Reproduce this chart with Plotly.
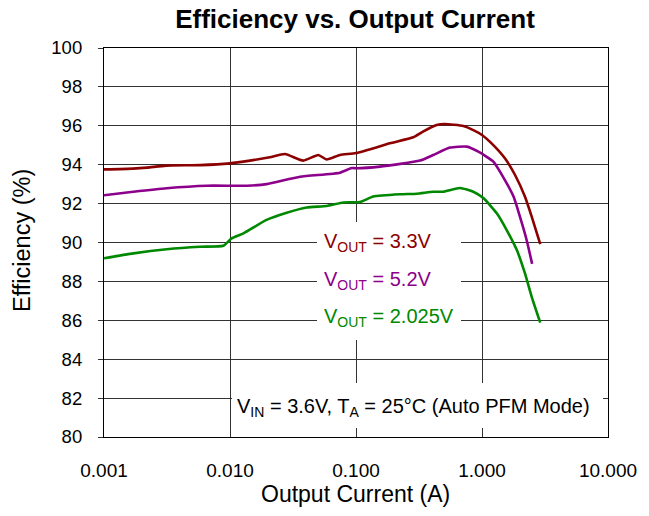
import plotly.graph_objects as go

# ---- data ----
x_33 = [0.001, 0.0017, 0.0022, 0.0031, 0.0058, 0.01, 0.0144, 0.0207, 0.0273, 0.0382, 0.0502,
        0.0585, 0.0746, 0.1, 0.186, 0.285, 0.34, 0.436, 0.508, 0.711, 0.853, 1.0, 1.23,
        1.52, 1.83, 2.19, 2.48, 2.9]
y_33 = [93.76, 93.8, 93.85, 93.95, 93.98, 94.07, 94.21, 94.38, 94.55, 94.21, 94.5,
        94.27, 94.5, 94.6, 95.1, 95.41, 95.7, 96.04, 96.09, 95.99, 95.78, 95.53, 95.01,
        94.33, 93.47, 92.36, 91.33, 89.92]

x_52 = [0.001, 0.00171, 0.00314, 0.00653, 0.0136, 0.0195, 0.036, 0.0746, 0.0925, 0.1,
        0.155, 0.322, 0.411, 0.557, 0.757, 0.936, 1.23, 1.52, 1.78, 2.0, 2.26, 2.5]
y_52 = [92.43, 92.61, 92.79, 92.92, 92.92, 93.0, 93.38, 93.59, 93.83, 93.82,
        93.9, 94.21, 94.5, 94.88, 94.93, 94.67, 94.16, 93.21, 92.36, 91.33, 90.13, 88.9]

x_2025 = [0.001, 0.00171, 0.00314, 0.00578, 0.00885, 0.0103, 0.0128, 0.0195, 0.0282, 0.0406,
          0.0585, 0.0794, 0.1076, 0.137, 0.223, 0.303, 0.411, 0.493, 0.669, 0.853, 1.03,
          1.31, 1.57, 1.89, 2.19, 2.48, 2.9]
y_2025 = [89.19, 89.44, 89.65, 89.78, 89.83, 90.21, 90.47, 91.16, 91.53, 91.8,
          91.88, 92.06, 92.08, 92.36, 92.48, 92.51, 92.61, 92.61, 92.8, 92.61, 92.27,
          91.5, 90.64, 89.61, 88.42, 87.21, 85.88]

x_tickvals = [0.001, 0.01, 0.1, 1, 10]
x_ticktext = ["0.001", "0.010", "0.100", "1.000", "10.000"]
y_tickvals = [80, 82, 84, 86, 88, 90, 92, 94, 96, 98, 100]

series = [
    ("V<sub>OUT</sub> = 3.3V", x_33, y_33, "rgb(140,0,0)"),
    ("V<sub>OUT</sub> = 5.2V", x_52, y_52, "rgb(140,0,140)"),
    ("V<sub>OUT</sub> = 2.025V", x_2025, y_2025, "rgb(0,136,0)"),
]

FONT = "Liberation Sans, Arial, sans-serif"
OFF = 8  # browser body margin: the figure starts at page (8, 8)
W, H = 649 - OFF, 516 - OFF
# wanted plot area in page pixels: x 104..608, y 48..437
L, T = 104 - OFF, 48 - OFF
R, B = 649 - 608, 516 - 437
PW, PH = 608 - 104, 437 - 48


def px(x):
    return (x - 104) / PW


def py(y):
    return (437 - y) / PH


fig = go.Figure()
for name, xs, ys, col in series:
    fig.add_trace(go.Scatter(x=xs, y=ys, mode="lines", name=name,
                             line=dict(color=col, width=2.6, shape="spline", smoothing=0.5),
                             showlegend=False))

# white boxes covering gridlines behind the labels
fig.add_annotation(xref="paper", yref="paper", x=px(317), y=py(222), text=" ",
                   showarrow=False, xanchor="left", yanchor="top",
                   width=144, height=118, bgcolor="white", borderpad=0, borderwidth=0)
fig.add_annotation(xref="paper", yref="paper", x=px(232), y=py(383), text=" ",
                   showarrow=False, xanchor="left", yanchor="top",
                   width=371, height=45, bgcolor="white", borderpad=0, borderwidth=0)

label_y = [243, 280, 317]
for (name, xs, ys, col), ly in zip(series, label_y):
    fig.add_annotation(xref="paper", yref="paper", x=px(322), y=py(ly), text=name,
                       showarrow=False, xanchor="left", yanchor="middle",
                       font=dict(family=FONT, size=20, color=col))

fig.add_annotation(xref="paper", yref="paper", x=px(235), y=py(407),
                   text="V<sub>IN</sub> = 3.6V, T<sub>A</sub> = 25°C (Auto PFM Mode)",
                   showarrow=False, xanchor="left", yanchor="middle",
                   font=dict(family=FONT, size=20, color="black"))

# axis titles
fig.add_annotation(xref="paper", yref="paper", x=px(355), y=py(494), text="Output Current (A)",
                   showarrow=False, xanchor="center", yanchor="middle",
                   font=dict(family=FONT, size=23, color="black"))
fig.add_annotation(xref="paper", yref="paper", x=px(22), y=py(241), text="Efficiency (%)",
                   showarrow=False, xanchor="center", yanchor="middle", textangle=-90,
                   font=dict(family=FONT, size=23.5, color="black"))

fig.update_layout(
    width=W, height=H,
    margin=dict(l=L, r=R, t=T, b=B, autoexpand=False),
    paper_bgcolor="white", plot_bgcolor="white",
    font=dict(family=FONT, color="black"),
    title=dict(text="<b>Efficiency vs. Output Current</b>", x=(355 - OFF) / W, xanchor="center",
               y=1 - (19 - OFF) / H, yanchor="middle",
               font=dict(family=FONT, size=26, color="black")),
    xaxis=dict(type="log", range=[-3, 1], tickvals=x_tickvals, ticktext=x_ticktext,
               showgrid=True, gridcolor="#333333", gridwidth=1,
               showline=True, linecolor="black", linewidth=1.2, mirror=True,
               ticks="", ticklabelstandoff=16,
               tickfont=dict(family=FONT, size=19, color="black"), zeroline=False),
    yaxis=dict(range=[80, 100], tickvals=y_tickvals,
               showgrid=True, gridcolor="#333333", gridwidth=1,
               showline=True, linecolor="black", linewidth=1.2, mirror=True,
               ticks="outside", ticklen=5, tickcolor="#333333", ticklabelstandoff=12,
               tickfont=dict(family=FONT, size=18.5, color="black"), zeroline=False),
)

fig.write_html("out.html")
